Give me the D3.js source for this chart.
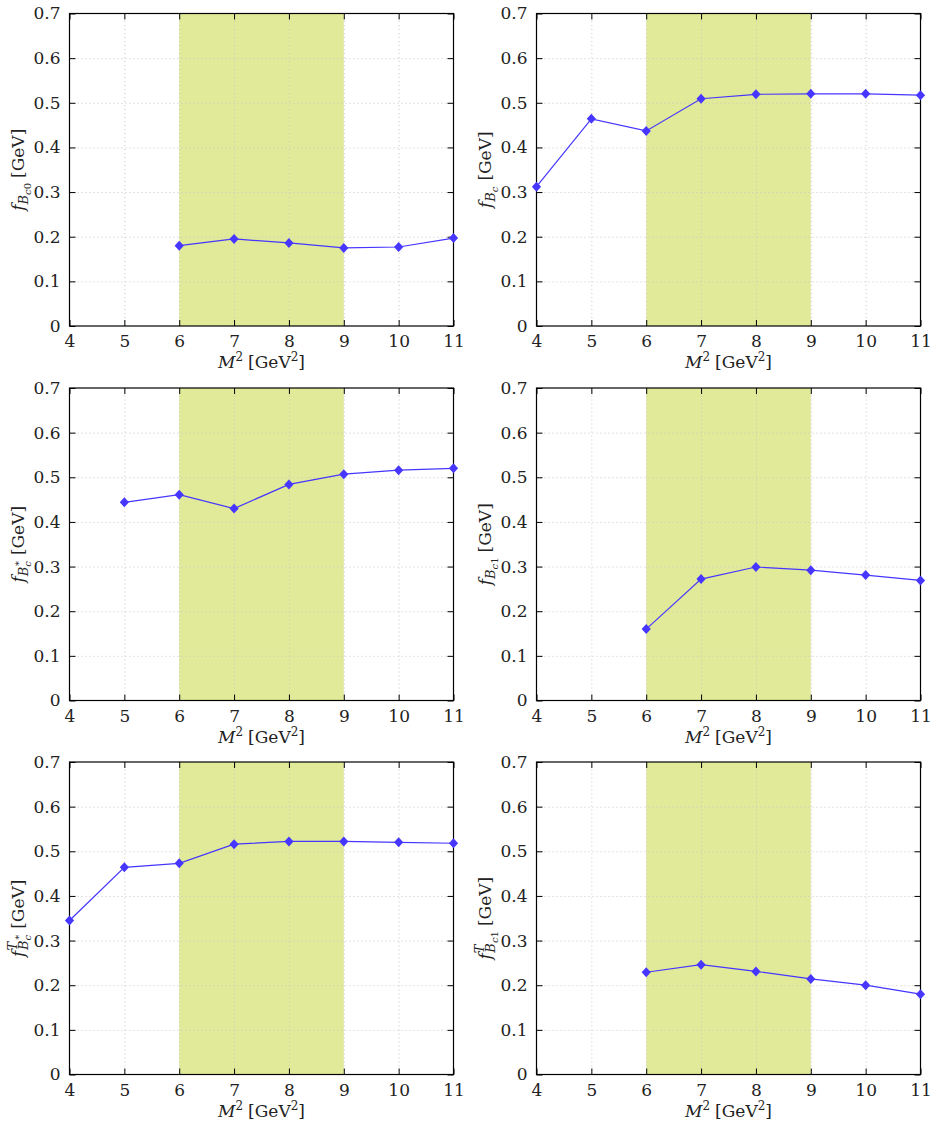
<!DOCTYPE html>
<html lang="en">
<head>
    <meta charset="UTF-8">
    <script src="https://d3js.org/d3.v7.min.js"></script>
    <title>Decay constants vs Borel mass</title>
    <style>
        body { margin: 0; background: #fff; }
        svg text { font-family: 'DejaVu Serif', 'Liberation Serif', serif; fill: #222; }
        .grid line { stroke: #c8c8c8; stroke-dasharray: 1,3; }
        .grid path, .frame-ax path { display: none; }
        .frame-ax line { stroke: #000; }
    </style>
</head>
<body>
<svg height="1127" width="933"></svg>
<script>
    // Borel parameter M^2 [GeV^2]
    const m2 = [4, 5, 6, 7, 8, 9, 10, 11];
    const xTicks = [4, 5, 6, 7, 8, 9, 10, 11];
    const yTicks = [0, 0.1, 0.2, 0.3, 0.4, 0.5, 0.6, 0.7];
    const window_ = [6, 9];   // shaded working window

    // values, null = no point
    const fBc0   = [null, null, 0.180, 0.195, 0.186, 0.175, 0.177, 0.197];
    const fBc    = [0.312, 0.464, 0.437, 0.509, 0.519, 0.520, 0.520, 0.517];
    const fBcs   = [null, 0.444, 0.461, 0.430, 0.484, 0.507, 0.516, 0.520];
    const fBc1   = [null, null, 0.160, 0.272, 0.299, 0.292, 0.281, 0.269];
    const fTBcs  = [0.345, 0.464, 0.473, 0.516, 0.522, 0.522, 0.520, 0.518];
    const fTBc1  = [null, null, 0.229, 0.246, 0.231, 0.214, 0.200, 0.180];

    // axis label pieces: text, font size, baseline offset, italic, dx
    const lblBc0  = [["f",17,0,1],["B",13,4,1],["c",10,7,1],["0",10,7,0],["[GeV]",17,0,0,5]];
    const lblBc   = [["f",17,0,1],["B",13,4,1],["c",10,7,1],["[GeV]",17,0,0,6]];
    const lblBcs  = [["f",17,0,1],["B",13,4,1],["c",10,7,1],["*",10,-2,0,-5],["[GeV]",17,0,0,6]];
    const lblBc1  = [["f",17,0,1],["B",13,4,1],["c",10,7,1],["1",10,7,0],["[GeV]",17,0,0,5]];
    const lblTBcs = [["f",17,0,1],["T",13,-7,1],["B",13,4,1,-8],["c",10,7,1],["*",10,-2,0,-5],["[GeV]",17,0,0,6]];
    const lblTBc1 = [["f",17,0,1],["T",13,-7,1],["B",13,4,1,-8],["c",10,7,1],["1",10,7,0],["[GeV]",17,0,0,5]];
    const lblX    = [["M",17,0,1],["2",12,-7,0],["[GeV",17,0,0,5],["2",12,-7,0],["]",17,0,0]];

    const panels = [
        {col: 0, row: 0, vals: fBc0,  label: lblBc0},
        {col: 1, row: 0, vals: fBc,   label: lblBc},
        {col: 0, row: 1, vals: fBcs,  label: lblBcs},
        {col: 1, row: 1, vals: fBc1,  label: lblBc1},
        {col: 0, row: 2, vals: fTBcs, label: lblTBcs},
        {col: 1, row: 2, vals: fTBc1, label: lblTBc1}
    ];

    const colLeft = [69.5, 536.5], rowTop = [13.5, 388, 762];
    const w = 384, h = 312.5;
    const lineColor = '#4636ff', bandColor = '#e1ea98';
    const serif = "'DejaVu Serif', 'Liberation Serif', serif";

    const x = d3.scaleLinear().domain([4, 11]).range([0, w]);
    const y = d3.scaleLinear().domain([0, 0.7]).range([h, 0]);
    const yFmt = d => d === 0 ? "0" : d3.format(".1f")(d);
    const diamond = "M0,-5L4.6,0L0,5L-4.6,0Z";

    const svg = d3.select("svg");
    panels.forEach(drawPanel);

    function addParts(text, parts) {
        let cur = 0;
        parts.forEach(p => {
            text.append("tspan").text(p[0])
                .attr("font-size", p[1])
                .attr("font-style", p[3] ? "italic" : "normal")
                .attr("dy", p[2] - cur)
                .attr("dx", p[4] || 0);
            cur = p[2];
        });
    }

    function drawPanel(p) {
        const g = svg.append("g")
                .attr("transform", `translate(${colLeft[p.col]},${rowTop[p.row]})`);

        g.append("rect")
                .attr("x", x(window_[0])).attr("y", 0)
                .attr("width", x(window_[1]) - x(window_[0])).attr("height", h)
                .style("fill", bandColor);

        // dotted grid
        g.append("g").attr("class", "grid")
                .attr("transform", `translate(0,${h})`)
                .call(d3.axisBottom(x).tickValues(xTicks.slice(1, -1)).tickSize(-h).tickFormat(""));
        g.append("g").attr("class", "grid")
                .call(d3.axisLeft(y).tickValues(yTicks.slice(1, -1)).tickSize(-w).tickFormat(""));

        // inward ticks on all four sides
        g.append("g").attr("class", "frame-ax")
                .attr("transform", `translate(0,${h})`)
                .call(d3.axisBottom(x).tickValues(xTicks).tickSize(-6).tickSizeOuter(0)
                        .tickPadding(9).tickFormat(d3.format("d")));
        g.append("g").attr("class", "frame-ax")
                .call(d3.axisTop(x).tickValues(xTicks).tickSize(-6).tickSizeOuter(0).tickFormat(""));
        g.append("g").attr("class", "frame-ax")
                .call(d3.axisLeft(y).tickValues(yTicks).tickSize(-6).tickSizeOuter(0).tickPadding(9).tickFormat(yFmt));
        g.append("g").attr("class", "frame-ax")
                .attr("transform", `translate(${w},0)`)
                .call(d3.axisRight(y).tickValues(yTicks).tickSize(-6).tickSizeOuter(0).tickFormat(""));
        g.selectAll(".frame-ax").attr("font-family", null).attr("font-size", 17);

        g.append("rect").attr("width", w).attr("height", h)
                .style("fill", "none").style("stroke", "#000").style("stroke-width", 1.2);

        const pts = m2.map((m, i) => [m, p.vals[i]]).filter(d => d[1] !== null);
        g.append("path").datum(pts)
                .attr("d", d3.line().x(d => x(d[0])).y(d => y(d[1])))
                .style("fill", "none").style("stroke", lineColor).style("stroke-width", 1.2);
        g.selectAll("path.pt").data(pts).enter().append("path")
                .attr("class", "pt")
                .attr("d", diamond)
                .attr("transform", d => `translate(${x(d[0])},${y(d[1])})`)
                .style("fill", lineColor);

        const xl = g.append("text").attr("x", w / 2).attr("y", h + 42)
                .attr("text-anchor", "middle").attr("font-size", 17);
        addParts(xl, lblX);

        const yl = g.append("text").attr("transform", `translate(-46,${h / 2}) rotate(-90)`)
                .attr("text-anchor", "middle").attr("font-size", 17);
        addParts(yl, p.label);
    }
</script>
</body>
</html>
